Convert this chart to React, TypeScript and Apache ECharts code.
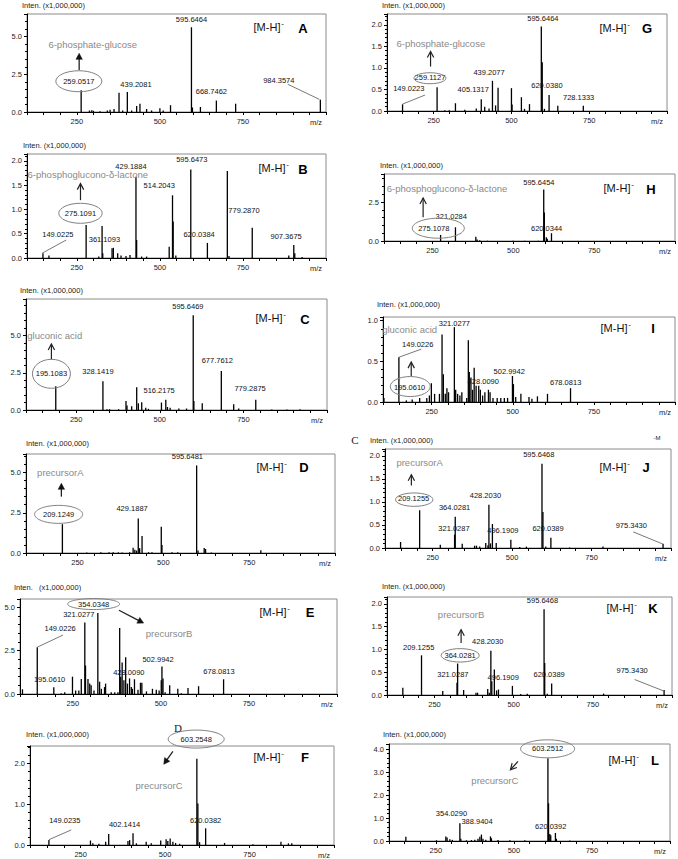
import React, { useEffect, useRef } from 'react';
import * as echarts from 'echarts';

type P = [number, number];
type Lb = [string, number, number];

const FONT = '"Liberation Sans", Arial, sans-serif';
const MZ_MIN = 100;
const MZ_MAX = 1000;
const MZ_STEP = 50;
const X_TICK_LABELS = [250, 500, 750];

// ---------- spectra (m/z, intensity x1,000,000) ----------
const peaksA: P[] = [[263,1.44],[288,0.1],[295,0.12],[300,0.08],[320,0.05],[342,0.1],[350,0.15],[362,0.2],[377,1.27],[388,0.1],[402,1.33],[415,0.1],[430,0.4],[440,0.55],[460,0.2],[475,0.1],[500,0.25],[510,0.1],[532,0.45],[595,5.62],[598,0.3],[622,0.33],[670,0.76],[728,0.55],[983,0.82]];
const peaksG: P[] = [[150,0.155],[261,0.55],[286,0.02],[300,0.02],[320,0.18],[350,0.03],[387,0.06],[403,0.27],[414,0.1],[428,0.06],[439,0.7],[449,0.13],[457,0.54],[500,0.53],[502,0.15],[532,0.32],[542,0.05],[558,0.16],[596,1.96],[599,1.13],[606,0.05],[621,0.37],[649,0.12],[731,0.12]];
const peaksB: P[] = [[148,0.1],[166,0.05],[278,0.68],[316,0.03],[326,0.66],[328,0.1],[356,0.2],[360,0.21],[373,0.1],[383,0.05],[398,0.04],[410,0.06],[428,1.67],[430,0.37],[445,0.03],[460,0.03],[528,0.23],[538,1.29],[540,0.75],[548,0.05],[593,1.82],[643,0.31],[703,1.79],[708,0.04],[778,0.62],[888,0.05],[903,0.27],[906,0.1],[928,0.02]];
const peaksH: P[] = [[275,0.39],[321,0.88],[384,0.28],[388,0.1],[396,0.05],[420,0.02],[499,0.02],[535,0.02],[577,0.02],[594,3.3],[596,1.83],[602,0.24],[605,0.15],[618,0.5]];
const peaksC: P[] = [[189,1.59],[330,1.93],[342,0.05],[350,0.05],[377,0.05],[399,0.61],[402,0.3],[416,0.25],[431,1.52],[436,0.45],[446,0.52],[458,0.15],[466,0.08],[505,0.5],[518,0.68],[523,0.2],[531,0.15],[557,0.1],[580,0.1],[600,6.36],[602,0.6],[627,0.45],[684,2.61],[721,0.39],[736,0.1],[787,0.68],[835,0.03],[880,0.03],[919,0.05]];
const peaksI: P[] = [[103,0.05],[149,0.55],[172,0.02],[190,0.03],[213,0.05],[235,0.05],[243,0.08],[249,0.23],[259,0.1],[274,0.1],[282,0.83],[286,0.34],[292,0.1],[297,0.17],[302,0.12],[320,0.92],[324,0.15],[330,0.1],[337,0.08],[343,0.12],[358,0.05],[363,0.76],[366,0.37],[371,0.3],[376,0.15],[381,0.42],[387,0.2],[395,0.2],[400,0.15],[407,0.08],[414,0.12],[425,0.15],[430,0.12],[439,0.05],[452,0.05],[463,0.05],[474,0.05],[484,0.05],[499,0.32],[502,0.22],[509,0.06],[525,0.1],[550,0.06],[559,0.04],[576,0.07],[607,0.1],[678,0.17]];
const peaksD: P[] = [[206,1.79],[277,0.03],[318,0.04],[342,0.05],[354,0.05],[369,0.04],[380,0.03],[402,0.05],[412,0.33],[417,0.2],[422,0.15],[427,2.15],[431,0.3],[438,1.06],[457,0.05],[467,0.04],[494,1.63],[496,0.5],[525,0.05],[542,0.04],[597,5.44],[601,0.15],[619,0.31],[623,0.25],[640,0.03],[784,0.17]];
const peaksJ: P[] = [[149,0.13],[209,0.82],[274,0.07],[319,0.29],[321,0.68],[343,0.09],[382,0.05],[388,0.05],[398,0.03],[417,0.11],[424,0.06],[427,0.94],[432,0.1],[438,0.52],[450,0.11],[496,0.18],[524,0.02],[545,0.03],[594,1.83],[597,0.78],[606,0.03],[622,0.22],[681,0.01],[786,0.03],[975,0.09]];
const peaksE: P[] = [[107,0.27],[149,2.7],[196,0.39],[217,0.05],[227,0.1],[249,1.0],[258,0.2],[267,0.2],[274,0.87],[284,4.13],[286,1.64],[293,0.87],[298,0.6],[302,0.5],[310,0.2],[321,4.67],[326,0.71],[331,0.3],[340,0.4],[343,0.6],[359,0.1],[369,0.1],[378,0.1],[383,3.8],[386,1.0],[390,1.81],[395,0.8],[400,2.12],[405,0.6],[411,0.9],[416,0.4],[419,0.3],[425,0.85],[435,0.25],[442,0.65],[446,0.65],[459,0.15],[476,0.3],[487,0.25],[495,0.2],[501,0.8],[503,1.58],[506,0.9],[512,0.1],[525,0.5],[548,0.3],[558,0.05],[577,0.35],[607,0.45],[678,0.85]];
const peaksK: P[] = [[150,0.16],[209,0.87],[276,0.09],[321,0.27],[323,0.69],[342,0.11],[381,0.05],[386,0.05],[418,0.13],[423,0.05],[428,0.97],[431,0.3],[439,0.56],[446,0.1],[452,0.12],[496,0.2],[522,0.02],[543,0.03],[596,1.88],[598,0.7],[606,0.03],[620,0.25],[784,0.03],[975,0.11]];
const peaksF: P[] = [[156,0.12],[279,0.11],[286,0.04],[304,0.03],[324,0.08],[333,0.27],[390,0.1],[395,0.12],[405,0.29],[415,0.04],[444,0.08],[459,0.04],[487,0.11],[503,0.14],[508,0.1],[515,0.16],[523,0.08],[531,0.05],[543,0.03],[594,2.12],[597,1.02],[602,0.07],[620,0.41],[676,0.05],[760,0.02],[843,0.08],[865,0.04],[875,0.04]];
const peaksL: P[] = [[154,0.19],[252,0.03],[282,0.2],[286,0.15],[295,0.08],[303,0.05],[327,0.77],[330,0.1],[348,0.03],[364,0.04],[375,0.05],[385,0.1],[391,0.18],[396,0.28],[401,0.1],[410,0.05],[425,0.2],[428,0.12],[449,0.04],[487,0.03],[535,0.03],[609,3.6],[611,1.64],[615,0.3],[618,0.25],[633,0.35],[636,0.1],[679,0.02]];

// ---------- peak labels (text, m/z, intensity of text centre) ----------
const labelsA: Lb[] = [['595.6464',595,6.16],['259.0517',256,2.04],['439.2081',428,1.82],['668.7462',655,1.38],['984.3574',858,2.11]];
const labelsG: Lb[] = [['595.6464',601,2.14],['259.1127',238,0.77],['149.0223',170,0.53],['439.2077',428,0.89],['405.1317',377,0.49],['620.0380',614,0.59],['728.1333',716,0.32]];
const labelsB: Lb[] = [['429.1884',413,1.89],['595.6473',596,2.03],['514.2043',498,1.49],['275.1091',261,0.92],['149.0225',193,0.49],['361.1093',333,0.39],['620.0384',618,0.49],['779.2870',753,0.97],['907.3675',880,0.45]];
const labelsH: Lb[] = [['595.6454',579,3.73],['321.0284',308,1.57],['275.1078',254,0.82],['620.0344',603,0.82]];
const labelsC: Lb[] = [['595.6469',584,6.98],['195.1083',176,2.43],['328.1419',315,2.57],['677.7612',672,3.34],['516.2175',498,1.32],['779.2875',770,1.43]];
const labelsI: Lb[] = [['321.0277',320,0.97],['149.0226',207,0.71],['195.0610',182,0.18],['502.9942',489,0.38],['428.0090',409,0.25],['678.0813',663,0.24]];
const labelsD: Lb[] = [['595.6481',570,6.0],['209.1249',195,2.4],['429.1887',409,2.77]];
const labelsJ: Lb[] = [['595.6468',584,2.03],['209.1255',190,1.07],['428.2030',416,1.14],['364.0281',319,0.87],['321.0287',317,0.43],['496.1909',471,0.38],['620.0389',613,0.42],['975.3430',875,0.48]];
const labelsE: Lb[] = [['354.0348',309,5.19],['321.0277',267,4.61],['149.0226',214,3.75],['502.9942',492,1.97],['428.0090',409,1.24],['678.0813',665,1.29],['195.0610',184,0.81]];
const labelsK: Lb[] = [['595.6468',591,2.07],['364.0281',331,0.87],['209.1255',200,1.04],['428.2030',418,1.18],['321.0287',308,0.45],['496.1909',467,0.38],['620.0389',612,0.45],['975.3430',874,0.53]];
const labelsF: Lb[] = [['603.2548',592,2.6],['149.0235',203,0.59],['402.1414',380,0.51],['620.0382',620,0.61]];
const labelsL: Lb[] = [['603.2512',608,4.01],['354.0290',300,1.18],['388.9404',382,0.87],['620.0392',618,0.65]];

// ---------- panel layout & annotation config ----------
interface Panel {
  id: string; peaks: P[]; labels: Lb[]; yMax: number; yStep: number;
  box: [number, number, number, number]; // left, right, top, bottom (px)
  inten: [number, number]; mh: [number, number]; letter: [number, number]; intenText?: string;
  name: [string, number, number];
  ellipse: [number, number, number, number]; // mz, y, rx(px), ry(px)
  arrow: [number, number, number, number, boolean];
  leaders: [number, number, number, number][];
}

const panels: Panel[] = [
  { id: 'A', peaks: peaksA, labels: labelsA, yMax: 6.5, yStep: 2.5, box: [27, 326, 14, 112], inten: [22, 5], mh: [267, 27], letter: [303, 28],
    name: ['6-phosphate-glucose', 298, 4.49], ellipse: [256, 2.04, 23, 10.5], arrow: [257, 2.78, 257, 3.89, true], leaders: [[885, 1.84, 980, 0.84]] },
  { id: 'G', peaks: peaksG, labels: labelsG, yMax: 2.25, yStep: 0.5, box: [387, 667, 14, 111], inten: [382, 5], mh: [613, 28], letter: [647, 28],
    name: ['6-phosphate-glucose', 273, 1.57], ellipse: [238, 0.76, 16, 5.5], arrow: [240, 1.03, 240, 1.38, false], leaders: [[222, 0.37, 150, 0.16]] },
  { id: 'B', peaks: peaksB, labels: labelsB, yMax: 2.14, yStep: 0.5, box: [27, 326, 154, 258], inten: [23, 145], mh: [272, 168], letter: [303, 169],
    name: ['6-phosphoglucono-δ-lactone', 283, 1.72], ellipse: [261, 0.92, 21.7, 10], arrow: [261, 1.19, 261, 1.53, false], leaders: [[218, 0.37, 146, 0.1]] },
  { id: 'H', peaks: peaksH, labels: labelsH, yMax: 4.3, yStep: 2.5, box: [384, 675, 174, 241], inten: [380, 165], mh: [617, 188], letter: [651, 189],
    name: ['6-phosphoglucono-δ-lactone', 295, 3.36], ellipse: [268, 0.82, 26, 10], arrow: [221, 1.53, 221, 2.76, false], leaders: [] },
  { id: 'C', peaks: peaksC, labels: labelsC, yMax: 7.45, yStep: 2.5, box: [26, 327, 299, 410], inten: [20, 290], mh: [269, 318], letter: [305, 319],
    name: ['gluconic acid', 186, 5.0], ellipse: [176, 2.43, 19, 14.5], arrow: [176, 3.41, 176, 4.43, false], leaders: [] },
  { id: 'I', peaks: peaksI, labels: labelsI, yMax: 1.045, yStep: 0.5, box: [383, 675, 317, 402], inten: [377, 304], mh: [614, 328], letter: [653, 328],
    name: ['gluconic acid', 182, 0.89], ellipse: [184, 0.19, 20, 10], arrow: [187, 0.32, 187, 0.49, false], leaders: [[218, 0.65, 149, 0.55]] },
  { id: 'D', peaks: peaksD, labels: labelsD, yMax: 6.15, yStep: 2.5, box: [26, 335, 454, 553], inten: [26, 443], mh: [270, 467], letter: [304, 467],
    name: ['precursorA', 200, 5.0], ellipse: [195, 2.4, 24, 9], arrow: [203, 3.5, 203, 4.33, true], leaders: [] },
  { id: 'J', peaks: peaksJ, labels: labelsJ, yMax: 2.15, yStep: 0.5, box: [385, 671, 449, 548], inten: [370, 440], mh: [613, 467], letter: [646, 467],
    name: ['precursorA', 209, 1.86], ellipse: [192, 1.05, 18.7, 6.7], arrow: [183, 1.36, 183, 1.59, false], leaders: [[881, 0.35, 973, 0.09]] },
  { id: 'E', peaks: peaksE, labels: labelsE, yMax: 5.48, yStep: 2.5, box: [20, 337, 599, 694], inten: [14, 587], mh: [273, 612], letter: [310, 612], intenText: 'Inten.   (x1,000,000)',
    name: ['precursorB', 523, 3.51], ellipse: [309, 5.19, 26, 5.5], arrow: [381, 4.83, 451, 4.09, true], leaders: [[222, 3.4, 149, 2.7]] },
  { id: 'K', peaks: peaksK, labels: labelsK, yMax: 2.15, yStep: 0.5, box: [387, 672, 597, 695], inten: [382, 586], mh: [620, 608], letter: [653, 608],
    name: ['precursorB', 334, 1.76], ellipse: [331, 0.87, 19, 6.7], arrow: [334, 1.14, 334, 1.43, false], leaders: [[882, 0.34, 973, 0.09]] },
  { id: 'F', peaks: peaksF, labels: labelsF, yMax: 2.43, yStep: 1.0, box: [30, 334, 746, 845], inten: [26, 734], mh: [267, 757], letter: [305, 757],
    name: ['precursorC', 482, 1.45], ellipse: [592, 2.6, 28, 9], arrow: [523, 2.3, 496, 1.98, true], leaders: [[222, 0.37, 156, 0.13]] },
  { id: 'L', peaks: peaksL, labels: labelsL, yMax: 4.22, yStep: 1.0, box: [389, 670, 744, 841], inten: [383, 734], mh: [622, 760], letter: [655, 760],
    name: ['precursorC', 439, 2.63], ellipse: [608, 4.01, 27, 9], arrow: [513, 3.46, 489, 3.1, false], leaders: [] },
];

const extraTexts: [string, number, number, number, string][] = [
  ['C', 355, 440, 11, 'serif'],
  ['D', 178, 728, 11, 'serif'],
  ['-M', 657, 438, 6, FONT],
];

export default function App() {
  const ref = useRef<HTMLDivElement>(null);
  useEffect(() => {
    if (!ref.current) return;
    const chart = echarts.init(ref.current, null, { renderer: 'svg' });
    const grid = panels.map((p) => ({
      left: p.box[0], top: p.box[2], width: p.box[1] - p.box[0], height: p.box[3] - p.box[2],
      show: true, borderColor: '#8a8a8a', borderWidth: 1, backgroundColor: 'transparent', containLabel: false,
    }));
    const xAxis = panels.map((p, i) => ({
      type: 'value', gridIndex: i, min: MZ_MIN, max: MZ_MAX, interval: MZ_STEP,
      axisLine: { show: true, onZero: false, lineStyle: { color: '#000', width: 1 } },
      axisTick: { show: true, length: 3, lineStyle: { color: '#000' } },
      splitLine: { show: false },
      axisLabel: { fontSize: 7.5, color: '#222', margin: 5, fontFamily: FONT,
        formatter: (v: number) => (X_TICK_LABELS.indexOf(v) >= 0 ? String(v) : '') },
    }));
    const yAxis = panels.map((p, i) => ({
      type: 'value', gridIndex: i, min: 0, max: p.yMax, interval: p.yStep,
      axisLine: { show: true, onZero: false, lineStyle: { color: '#000', width: 1 } },
      axisTick: { show: true, length: 3, lineStyle: { color: '#000' } },
      minorTick: { show: true, splitNumber: 5, length: 2, lineStyle: { color: '#000' } },
      splitLine: { show: false }, minorSplitLine: { show: false },
      axisLabel: { fontSize: 7.5, color: '#222', margin: 5, fontFamily: FONT,
        formatter: (v: number) => { const k = v / p.yStep; return Math.abs(k - Math.round(k)) < 1e-6 ? v.toFixed(1) : ''; } },
    }));
    const series = panels.map((p, i) => ({
      type: 'custom', xAxisIndex: i, yAxisIndex: i, data: p.peaks, encode: { x: 0, y: 1 }, clip: true,
      renderItem: (_params: any, api: any) => {
        const top = api.coord([api.value(0), api.value(1)]);
        const base = api.coord([api.value(0), 0]);
        return { type: 'line', shape: { x1: top[0], y1: top[1], x2: base[0], y2: base[1] }, style: { stroke: '#000', lineWidth: 1.3 } };
      },
    }));
    chart.setOption({ animation: false, textStyle: { fontFamily: FONT }, grid, xAxis, yAxis, series });

    const g: any[] = [];
    const txt = (text: string, x: number, y: number, size: number, fill: string, opts: any = {}) => {
      g.push({ type: 'text', x, y, z: 100, silent: true,
        style: { text, fill, fontSize: size, fontFamily: opts.family || FONT, fontWeight: opts.weight || 'normal', align: opts.align || 'center', verticalAlign: 'middle' } });
    };
    panels.forEach((p, i) => {
      const px = (mz: number, y: number) => chart.convertToPixel({ gridIndex: i } as any, [mz, y]) as number[];
      p.labels.forEach(([t, mz, y]) => { const q = px(mz, y); txt(t, q[0], q[1], 7.5, '#111'); });
      { const q = px(p.name[1], p.name[2]); txt(p.name[0], q[0], q[1], 9.5, '#8a8a8a'); }
      { const q = px(p.ellipse[0], p.ellipse[1]);
        g.push({ type: 'ellipse', z: 100, silent: true, shape: { cx: q[0], cy: q[1], rx: p.ellipse[2], ry: p.ellipse[3] }, style: { fill: 'none', stroke: '#808080', lineWidth: 1 } }); }
      { const a = px(p.arrow[0], p.arrow[1]); const b = px(p.arrow[2], p.arrow[3]);
        const dx = b[0] - a[0], dy = b[1] - a[1]; const len = Math.hypot(dx, dy) || 1;
        const ux = dx / len, uy = dy / len, nx = -uy, ny = ux;
        const hl = 6, hw = 3.2;
        const l1 = [b[0] - hl * ux + hw * nx, b[1] - hl * uy + hw * ny];
        const l2 = [b[0] - hl * ux - hw * nx, b[1] - hl * uy - hw * ny];
        if (p.arrow[4]) {
          g.push({ type: 'line', z: 100, silent: true, shape: { x1: a[0], y1: a[1], x2: b[0] - hl * ux * 0.8, y2: b[1] - hl * uy * 0.8 }, style: { stroke: '#222', lineWidth: 1.3 } });
          g.push({ type: 'polygon', z: 100, silent: true, shape: { points: [[b[0], b[1]], l1, l2] }, style: { fill: '#111', stroke: '#111', lineWidth: 0.5 } });
        } else {
          g.push({ type: 'line', z: 100, silent: true, shape: { x1: a[0], y1: a[1], x2: b[0], y2: b[1] }, style: { stroke: '#222', lineWidth: 1.2 } });
          g.push({ type: 'polyline', z: 100, silent: true, shape: { points: [l1, [b[0], b[1]], l2] }, style: { fill: 'none', stroke: '#222', lineWidth: 1.2 } });
        }
      }
      p.leaders.forEach((ld) => { const a = px(ld[0], ld[1]); const b = px(ld[2], ld[3]);
        g.push({ type: 'line', z: 100, silent: true, shape: { x1: a[0], y1: a[1], x2: b[0], y2: b[1] }, style: { stroke: '#555', lineWidth: 0.8 } }); });
      txt(p.intenText || 'Inten. (x1,000,000)', p.inten[0], p.inten[1], 7.5, '#222', { align: 'left' });
      txt('[M-H]', p.mh[0], p.mh[1], 11, '#111');
      txt('-', p.mh[0] + 15.5, p.mh[1] - 4, 8, '#111');
      txt(p.id, p.letter[0], p.letter[1], 13, '#000', { weight: 'bold' });
      txt('m/z', p.box[1] - 10, p.box[3] + 10, 7.5, '#222');
    });
    extraTexts.forEach(([t, x, y, s, f]) => txt(t, x, y, s, '#222', { family: f }));
    chart.setOption({ graphic: g });
    return () => chart.dispose();
  }, []);
  return <div ref={ref} style={{ position: 'absolute', left: 0, top: 0, width: 678, height: 859, background: '#fff' }} />;
}
